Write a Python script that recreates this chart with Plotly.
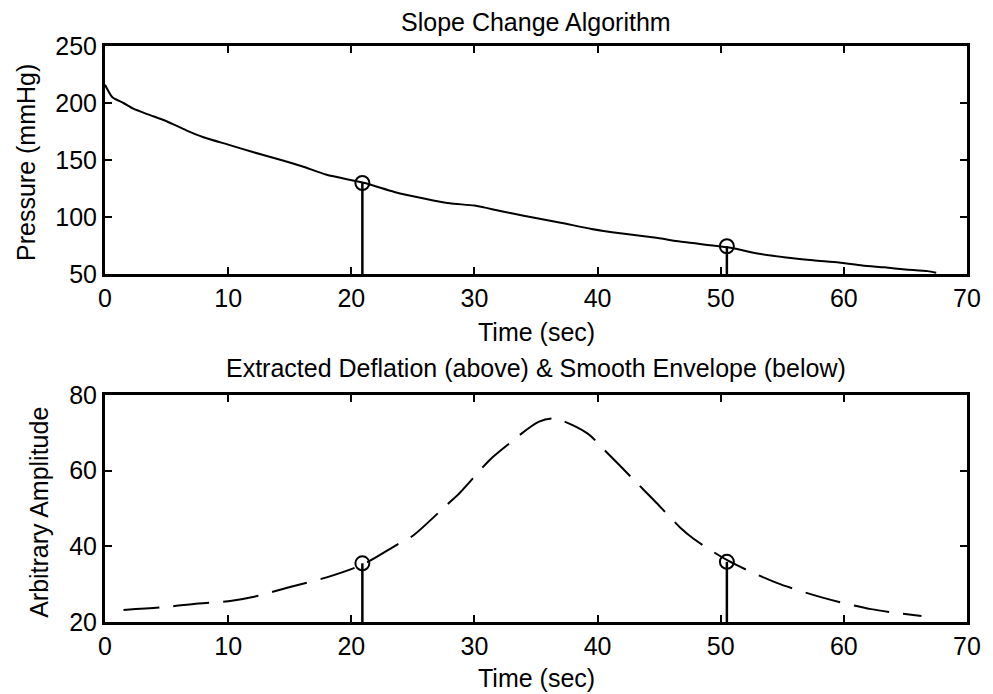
import plotly.graph_objects as go

# ---- data ----
t_pressure = [0, 0.6, 1.5, 2.3, 3.5, 5, 6.6, 8, 10, 12, 14.3, 16, 18, 21, 23.5, 26, 28, 30,
              32, 34, 37, 39.5, 42, 44.6, 47, 50.8, 53, 55.3, 57.5, 59.6, 61.5, 63.3, 65, 66.8, 67.5]
pressure = [216, 205, 200, 195, 190, 184, 176, 170, 163.5, 157, 150, 144.5, 137, 130, 122, 116,
            112, 110, 105.5, 101, 95, 89.5, 85.5, 82, 78, 73, 68, 64.5, 62, 60, 57.5, 55.8, 54, 52.5, 51]

t_env = [1.5, 4.4, 7.6, 10.3, 12, 15.1, 18, 21, 23.7, 25, 27.7, 28.8, 31.2, 32.5, 35.2, 36.5,
         39.2, 40.3, 43, 44.6, 46.7, 47.8, 50.6, 54.5, 58.2, 62.2, 66.3]
envelope = [23.2, 23.8, 24.9, 25.6, 26.6, 29.3, 31.8, 35.3, 40.4, 42.8, 50.8, 54.1, 62.7, 66.3,
            72.9, 73.8, 69.8, 66.3, 57.4, 52.1, 45, 42, 36.2, 30.4, 26.5, 23.4, 21.6]

mark_t = [20.9, 50.5]
mark_pressure = [129.8, 74.3]
mark_env = [35.5, 35.9]

top_range = [50, 250]
bot_range = [20, 80]
x_range = [0, 70]
top_ticks = [50, 100, 150, 200, 250]
bot_ticks = [20, 40, 60, 80]
x_ticks = [0, 10, 20, 30, 40, 50, 60, 70]

FONT = "Liberation Sans, Arial, sans-serif"
BLACK = "black"

fig = go.Figure()

# top curve
fig.add_trace(go.Scatter(x=t_pressure, y=pressure, mode="lines",
                         line=dict(color=BLACK, width=2, shape="spline", smoothing=0.6),
                         xaxis="x", yaxis="y2"))
# top stems
sx, sy = [], []
for t, v in zip(mark_t, mark_pressure):
    sx += [t, t, None]
    sy += [top_range[0], v, None]
fig.add_trace(go.Scatter(x=sx, y=sy, mode="lines", line=dict(color=BLACK, width=2.5),
                         xaxis="x", yaxis="y2"))
fig.add_trace(go.Scatter(x=mark_t, y=mark_pressure, mode="markers",
                         marker=dict(symbol="circle-open", size=14, color=BLACK, line=dict(width=2)),
                         xaxis="x", yaxis="y2"))

# bottom curve
fig.add_trace(go.Scatter(x=t_env, y=envelope, mode="lines",
                         line=dict(color=BLACK, width=2, dash="36px,14px", shape="spline", smoothing=0.8),
                         xaxis="x2", yaxis="y"))
bx, by = [], []
for t, v in zip(mark_t, mark_env):
    bx += [t, t, None]
    by += [bot_range[0], v, None]
fig.add_trace(go.Scatter(x=bx, y=by, mode="lines", line=dict(color=BLACK, width=2.5),
                         xaxis="x2", yaxis="y"))
fig.add_trace(go.Scatter(x=mark_t, y=mark_env, mode="markers",
                         marker=dict(symbol="circle-open", size=14, color=BLACK, line=dict(width=2)),
                         xaxis="x2", yaxis="y"))

axis_common = dict(showline=True, linecolor=BLACK, linewidth=3, mirror="ticks", ticks="inside",
                   ticklen=7, tickwidth=2, tickcolor=BLACK, showgrid=False, zeroline=False,
                   tickfont=dict(family=FONT, size=25, color=BLACK))

top_dom = [0.6042, 1.0]
bot_dom = [0.0, 0.3941]

fig.update_layout(
    width=993, height=694,
    margin=dict(l=105, r=15, t=46, b=72),
    paper_bgcolor="white", plot_bgcolor="white",
    showlegend=False,
    xaxis=dict(domain=[0, 1], range=x_range, tickvals=x_ticks, anchor="y2", **axis_common),
    yaxis2=dict(domain=top_dom, range=top_range, tickvals=top_ticks, anchor="x", **axis_common),
    xaxis2=dict(domain=[0, 1], range=x_range, tickvals=x_ticks, anchor="y", **axis_common),
    yaxis=dict(domain=bot_dom, range=bot_range, tickvals=bot_ticks, anchor="x2", **axis_common),
)

ann_font = dict(family=FONT, size=25, color=BLACK)
annotations = [
    dict(text="Slope Change Algorithm", x=0.5, y=1.0417),
    dict(text="Time (sec)", x=0.5, y=0.5035),
    dict(text="Extracted Deflation (above) & Smooth Envelope (below)", x=0.5, y=0.441),
    dict(text="Time (sec)", x=0.5, y=-0.0972),
    dict(text="Pressure (mmHg)", x=-0.0916, y=0.797, textangle=-90),
    dict(text="Arbitrary Amplitude", x=-0.0767, y=0.191, textangle=-90),
]
for a in annotations:
    fig.add_annotation(xref="paper", yref="paper", showarrow=False, font=ann_font,
                       xanchor="center", yanchor="middle", **a)

fig.write_html("out.html")
